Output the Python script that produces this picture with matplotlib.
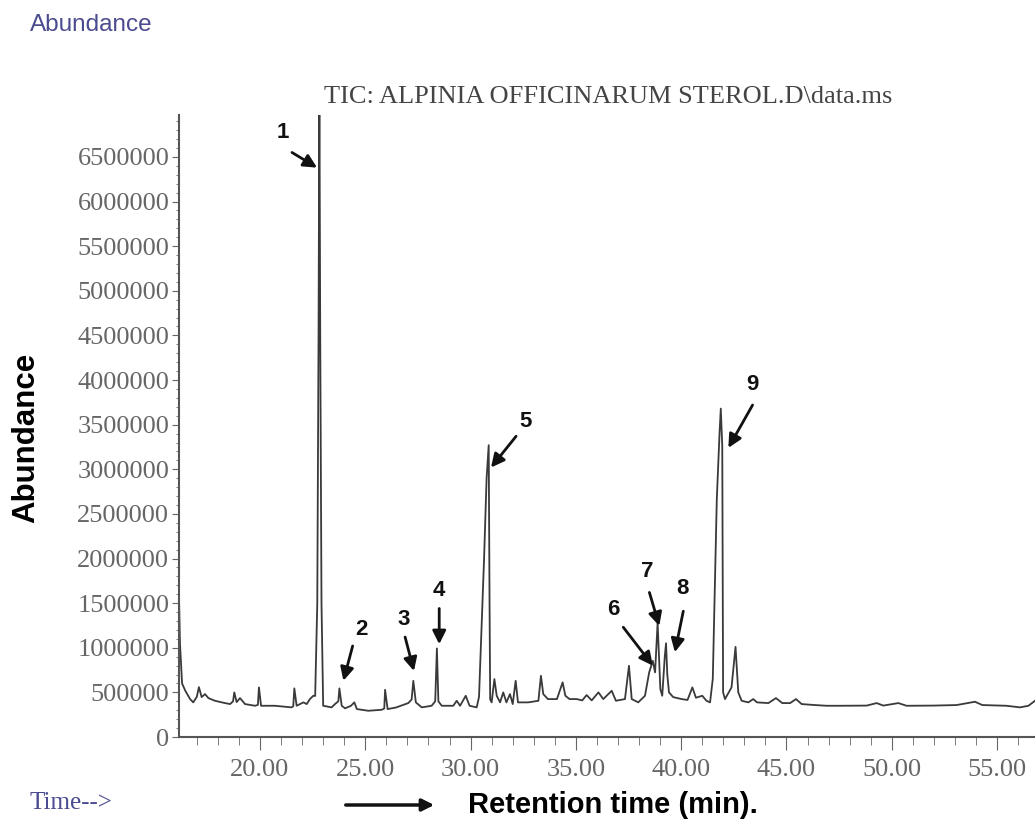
import matplotlib
matplotlib.use('Agg')
import matplotlib.pyplot as plt
from matplotlib.ticker import MultipleLocator, FormatStrFormatter

plt.rcParams['font.family'] = 'Liberation Serif'

# TIC trace, vertices (min, counts)
time_min = [
    16.16, 16.20, 16.30, 16.45, 16.68, 16.83, 17.00, 17.10, 17.23, 17.39,
    17.55, 17.86, 18.34, 18.58, 18.72, 18.78, 18.89, 19.05, 19.29, 19.76,
    19.90, 19.95, 20.05, 20.71, 21.50, 21.58, 21.63, 21.74, 22.06, 22.22,
    22.37, 22.53, 22.62, 22.72, 22.78, 22.82, 22.86, 22.92, 23.00, 23.40,
    23.56, 23.72, 23.77, 23.88, 24.04, 24.32, 24.48, 24.60, 25.14, 25.78,
    25.90, 25.94, 26.06, 26.45, 27.04, 27.20, 27.28, 27.40, 27.68, 28.15,
    28.32, 28.40, 28.47, 28.63, 29.18, 29.34, 29.50, 29.77, 29.95, 30.29,
    30.40, 30.52, 30.64, 30.76, 30.86, 30.90, 30.93, 31.00, 31.13, 31.24,
    31.40, 31.55, 31.70, 31.87, 32.00, 32.14, 32.25, 32.74, 33.22, 33.34,
    33.45, 33.67, 34.10, 34.37, 34.50, 34.70, 35.04, 35.30, 35.51, 35.75,
    36.07, 36.30, 36.70, 36.90, 37.33, 37.52, 37.65, 37.96, 38.28, 38.48,
    38.65, 38.76, 38.88, 39.01, 39.10, 39.22, 39.28, 39.34, 39.42, 39.62,
    40.02, 40.30, 40.53, 40.70, 41.00, 41.20, 41.37, 41.50, 41.69, 41.82,
    41.88, 41.95, 41.99, 42.08, 42.39, 42.58, 42.71, 42.87, 43.19, 43.42,
    43.60, 44.14, 44.50, 44.80, 45.17, 45.45, 45.72, 46.35, 46.91, 47.54,
    48.81, 49.28, 49.60, 50.31, 50.70, 51.97, 53.08, 53.95, 54.30, 55.45,
    56.09, 56.49, 56.80,
]
abundance = [
    1500000, 1050000, 600000, 520000, 425000, 388000, 450000, 559000, 447000, 481000,
    436000, 406000, 380000, 369000, 400000, 500000, 391000, 436000, 369000, 350000,
    360000, 556000, 350000, 350000, 332000, 345000, 545000, 350000, 388000, 369000,
    425000, 462000, 460000, 1500000, 4500000, 7300000, 4500000, 1500000, 350000, 332000,
    369000, 400000, 545000, 350000, 321000, 350000, 388000, 313000, 294000, 305000,
    320000, 529000, 313000, 330000, 380000, 420000, 630000, 388000, 332000, 350000,
    400000, 992000, 400000, 350000, 350000, 406000, 350000, 462000, 350000, 332000,
    450000, 1240000, 2000000, 2900000, 3270000, 1500000, 420000, 388000, 649000, 462000,
    388000, 500000, 388000, 481000, 369000, 630000, 388000, 388000, 406000, 686000,
    481000, 425000, 425000, 612000, 462000, 425000, 425000, 410000, 470000, 410000,
    500000, 425000, 518000, 406000, 425000, 798000, 425000, 388000, 462000, 724000,
    854000, 724000, 1280000, 537000, 462000, 900000, 1050000, 700000, 500000, 447000,
    425000, 415000, 556000, 440000, 462000, 406000, 388000, 650000, 2660000, 3400000,
    3680000, 3260000, 500000, 425000, 556000, 1010000, 500000, 406000, 388000, 425000,
    388000, 380000, 436000, 380000, 380000, 425000, 369000, 358000, 350000, 350000,
    352000, 380000, 352000, 380000, 350000, 352000, 358000, 395000, 358000, 350000,
    332000, 350000, 406000,
]

peak_labels = ['1', '2', '3', '4', '5', '6', '7', '8', '9']

# placement of the peak numbers and their arrows (time, abundance)
label_pos = [(21.09, 6.77e6), (24.83, 1.21e6), (26.80, 1.32e6), (28.51, 1.64e6),
             (32.63, 3.53e6), (36.78, 1.43e6), (38.39, 1.86e6), (40.07, 1.66e6),
             (43.39, 3.95e6)]
arrow_from = [(21.52, 6.55e6), (24.40, 1.02e6), (26.89, 1.12e6), (28.51, 1.44e6),
              (32.16, 3.37e6), (37.25, 1.23e6), (38.49, 1.62e6), (40.10, 1.41e6),
              (43.39, 3.72e6)]
arrow_to = [(22.71, 6.38e6), (23.96, 0.63e6), (27.31, 0.74e6), (28.51, 1.04e6),
            (30.97, 3.02e6), (38.65, 0.80e6), (38.96, 1.245e6), (39.70, 0.95e6),
            (42.24, 3.24e6)]

fig = plt.figure(figsize=(10.35, 8.32), dpi=100)
ax = fig.add_axes([179 / 1035, 95 / 832, 856 / 1035, 622 / 832])

ax.plot(time_min, abundance, color='#3a3a3a', lw=1.3)
ax.set_xlim(16.154, 56.8)
ax.set_ylim(0, 6.97e6)

ax.xaxis.set_major_locator(MultipleLocator(5))
ax.xaxis.set_minor_locator(MultipleLocator(1))
ax.xaxis.set_major_formatter(FormatStrFormatter('%.2f'))
ax.yaxis.set_major_locator(MultipleLocator(500000))
ax.yaxis.set_minor_locator(MultipleLocator(100000))
ax.yaxis.set_major_formatter(FormatStrFormatter('%d'))

for s in ['top', 'right']:
    ax.spines[s].set_visible(False)
for s in ['left', 'bottom']:
    ax.spines[s].set_color('#555555')
    ax.spines[s].set_linewidth(1.5)

ax.tick_params(axis='both', which='both', direction='out', color='#666666',
               labelcolor='#666666', labelsize=19)
ax.tick_params(axis='x', which='major', length=9, pad=7)
ax.tick_params(axis='x', which='minor', length=6)
ax.tick_params(axis='y', which='major', length=5, pad=2)
ax.tick_params(axis='y', which='minor', length=2)

for lab, lp, af, at in zip(peak_labels, label_pos, arrow_from, arrow_to):
    ax.annotate('', xy=at, xytext=af,
                arrowprops=dict(arrowstyle='-|>', color='#111111', lw=2,
                                mutation_scale=20, shrinkA=0, shrinkB=0))
    ax.text(lp[0], lp[1], lab, ha='center', va='center', fontsize=16,
            fontweight='bold', family='Liberation Sans', color='#111111')

fig.text(30 / 1035, 1 - 25 / 832, 'Abundance', ha='left', va='center',
         fontsize=17.5, family='Liberation Sans', color='#4b4b8f')
fig.text(608 / 1035, 1 - 97 / 832, 'TIC: ALPINIA OFFICINARUM STEROL.D\\data.ms',
         ha='center', va='center', fontsize=19, color='#444444')
fig.text(26 / 1035, 1 - 438 / 832, 'Abundance', rotation=90, ha='center',
         va='center', fontsize=22.5, fontweight='bold', family='Liberation Sans')
fig.text(30 / 1035, 1 - 803 / 832, 'Time-->', ha='left', va='center',
         fontsize=18, color='#4b4b8f')
fig.patches.append(matplotlib.patches.FancyArrowPatch(
    (343 / 1035, 1 - 805 / 832), (437 / 1035, 1 - 805 / 832),
    transform=fig.transFigure, arrowstyle='-|>', mutation_scale=18,
    lw=2.5, color='#111111'))
fig.text(468 / 1035, 1 - 805 / 832, 'Retention time (min).', ha='left',
         va='center', fontsize=21, fontweight='bold', family='Liberation Sans')

fig.savefig('out.png', dpi=100)
